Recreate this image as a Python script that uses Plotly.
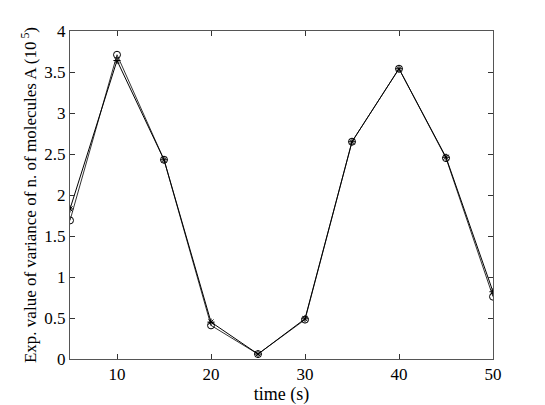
import plotly.graph_objects as go

time_s = [5, 10, 15, 20, 25, 30, 35, 40, 45, 50]
var_circle = [1.69, 3.71, 2.43, 0.41, 0.06, 0.48, 2.65, 3.54, 2.45, 0.76]
var_star = [1.83, 3.64, 2.43, 0.45, 0.06, 0.49, 2.65, 3.54, 2.46, 0.82]
x_ticks = [10, 20, 30, 40, 50]
y_ticks = [0, 0.5, 1, 1.5, 2, 2.5, 3, 3.5, 4]

fig = go.Figure()
fig.add_trace(go.Scatter(x=time_s, y=var_circle, mode="lines+markers",
                         line=dict(color="#333333", width=1),
                         marker=dict(symbol="circle-open", size=7, color="black", line=dict(width=1))))
fig.add_trace(go.Scatter(x=time_s, y=var_star, mode="lines+markers",
                         line=dict(color="black", width=1),
                         marker=dict(symbol="asterisk-open", size=6, color="black", line=dict(width=1))))

fam = "Liberation Serif, Times New Roman, serif"
tick_font = dict(family=fam, size=17, color="black")
xtitle_font = dict(family=fam, size=18, color="black")
ytitle_font = dict(family=fam, size=17, color="black")
axis_common = dict(showgrid=False, zeroline=False, showline=True, linecolor="#555555", linewidth=1,
                   mirror="ticks", ticks="inside", ticklen=5, tickcolor="#333333",
                   tickfont=tick_font, automargin=False)

fig.update_layout(
    width=545, height=405,
    margin=dict(l=62, r=60, t=23, b=54),
    paper_bgcolor="white", plot_bgcolor="white",
    showlegend=False,
    font=tick_font,
    xaxis=dict(range=[5, 50], tickvals=x_ticks, ticktext=[str(v) for v in x_ticks],
               title=dict(text="time (s)", font=xtitle_font, standoff=0), **axis_common),
    yaxis=dict(range=[0, 4], tickvals=y_ticks, ticktext=[f"{v:g}" for v in y_ticks],
               title=dict(text="Exp. value of variance of n. of molecules A (10<sup> 5</sup>)",
                          font=ytitle_font, standoff=3),
               **axis_common),
)

fig.write_html("out.html")
